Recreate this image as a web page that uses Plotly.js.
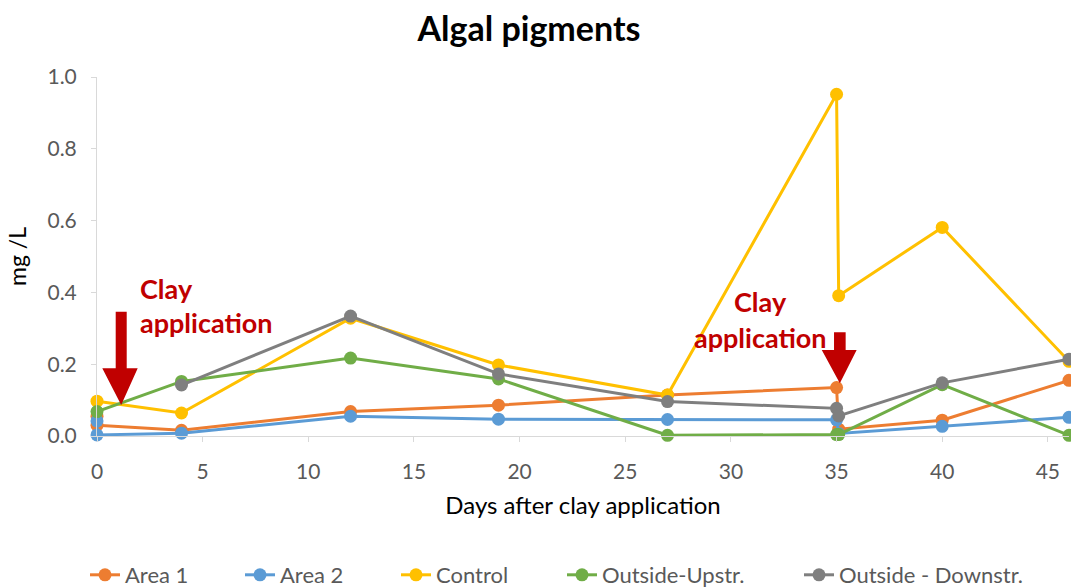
<!DOCTYPE html>
<html>
<head>
<meta charset="utf-8">
<script src="https://cdn.plot.ly/plotly-3.0.1.min.js"></script>
<style>html,body{margin:0;padding:0;background:#fff;}#chart{width:1071px;height:587px;}</style>
</head>
<body>
<div id="chart"></div>
<script>
// Data (days after clay application, mg/L)
const seriesNames = ["Area 1", "Area 2", "Control", "Outside-Upstr.", "Outside - Downstr."];
const area1Days = [0, 0, 4, 12, 19, 27, 35, 35.1, 40, 46];
const area1Vals = [0.055, 0.030, 0.016, 0.068, 0.086, 0.114, 0.135, 0.019, 0.044, 0.155];
const area2Days = [0, 0, 4, 12, 19, 27, 35, 35.1, 40, 46];
const area2Vals = [0.042, 0.003, 0.008, 0.055, 0.047, 0.046, 0.045, 0.007, 0.027, 0.052];
const controlDays = [0, 4, 12, 19, 27, 35, 35.1, 40, 46];
const controlVals = [0.097, 0.064, 0.328, 0.198, 0.114, 0.952, 0.391, 0.581, 0.208];
const upstrDays = [0, 4, 12, 19, 27, 35, 35.1, 40, 46];
const upstrVals = [0.068, 0.152, 0.217, 0.159, 0.002, 0.004, 0.004, 0.143, 0.002];
const downstrDays = [4, 12, 19, 27, 35, 35.1, 40, 46];
const downstrVals = [0.142, 0.334, 0.173, 0.096, 0.077, 0.056, 0.148, 0.214];
const colors = ["#ED7D31", "#5B9BD5", "#FFC000", "#70AD47", "#7F7F7F"];
const xTicks = [0, 5, 10, 15, 20, 25, 30, 35, 40, 45];
const yTicks = [0, 0.2, 0.4, 0.6, 0.8, 1.0];

const xs = [area1Days, area2Days, controlDays, upstrDays, downstrDays];
const ys = [area1Vals, area2Vals, controlVals, upstrVals, downstrVals];
const legendIds = ["legend", "legend2", "legend3", "legend4", "legend5"];
// legend text start positions (px) in the reference
const legendTextX = [126, 281, 437, 603, 840];

const traces = seriesNames.map((n, i) => ({
  type: "scatter", mode: "lines+markers", name: n,
  x: xs[i], y: ys[i], cliponaxis: false, legend: legendIds[i],
  line: {color: colors[i], width: 3},
  marker: {color: colors[i], size: 13}
}));

const FONT = "Lato, 'Open Sans', sans-serif";
const red = "#C00000";

const layout = {
  width: 1071, height: 587,
  margin: {l: 97, r: 2, t: 77, b: 151},
  paper_bgcolor: "#fff", plot_bgcolor: "#fff",
  font: {family: FONT, color: "#595959", size: 16},
  title: {text: "<b>Algal pigments</b>", font: {family: FONT, size: 34, color: "#000"},
          x: 529/1071, xanchor: "center", xref: "container", y: 1 - 29/587, yanchor: "middle", yref: "container"},
  showlegend: true,
  xaxis: {range: [0, 46], tickvals: xTicks, showgrid: false, zeroline: false,
          showline: true, linecolor: "#d9d9d9", linewidth: 1,
          ticks: "outside", ticklen: 5, tickcolor: "#d9d9d9", ticklabelstandoff: 12,
          tickfont: {family: FONT, size: 21, color: "#595959"},
          title: {text: "Days after clay application", font: {family: FONT, size: 24, color: "#000"}, standoff: 14}},
  yaxis: {range: [0, 1.0], tickvals: yTicks, tickformat: ".1f", showgrid: false, zeroline: false,
          showline: true, linecolor: "#d9d9d9", linewidth: 1,
          ticks: "outside", ticklen: 5, tickcolor: "#d9d9d9", ticklabelstandoff: 10,
          tickfont: {family: FONT, size: 21, color: "#595959"},
          title: {text: "mg /L", font: {family: FONT, size: 23, color: "#000"}, standoff: 14}},
  annotations: [
    {text: "<b>Clay</b>", x: 1.94, y: 0.41, xref: "x", yref: "y", xanchor: "left", yanchor: "middle", showarrow: false, font: {family: FONT, size: 27, color: red}},
    {text: "<b>application</b>", x: 1.94, y: 0.315, xref: "x", yref: "y", xanchor: "left", yanchor: "middle", showarrow: false, font: {family: FONT, size: 27, color: red}},
    {text: "<b>Clay</b>", x: 31.42, y: 0.375, xref: "x", yref: "y", xanchor: "center", yanchor: "middle", showarrow: false, font: {family: FONT, size: 27, color: red}},
    {text: "<b>application</b>", x: 31.42, y: 0.274, xref: "x", yref: "y", xanchor: "center", yanchor: "middle", showarrow: false, font: {family: FONT, size: 27, color: red}}
  ],
  shapes: [
    {type: "path", xref: "x", yref: "y", fillcolor: red, line: {width: 0},
     path: "M 0.885 0.346 L 1.406 0.346 L 1.406 0.1886 L 1.926 0.1886 L 1.145 0.0864 L 0.251 0.1886 L 0.885 0.1886 Z"},
    {type: "path", xref: "x", yref: "y", fillcolor: red, line: {width: 0},
     path: "M 34.88 0.289 L 35.43 0.289 L 35.43 0.2396 L 35.95 0.2396 L 35.156 0.1468 L 34.30 0.2396 L 34.88 0.2396 Z"}
  ]
};

legendIds.forEach((id, i) => {
  layout[id] = {orientation: "h", xref: "container", yref: "container",
    x: (legendTextX[i] - 41) / 1071, xanchor: "left",
    y: 1 - 575/587, yanchor: "middle",
    font: {family: FONT, size: 22, color: "#595959"},
    bgcolor: "rgba(0,0,0,0)"};
});

Plotly.newPlot("chart", traces, layout, {displayModeBar: false, staticPlot: true});
</script>
</body>
</html>
